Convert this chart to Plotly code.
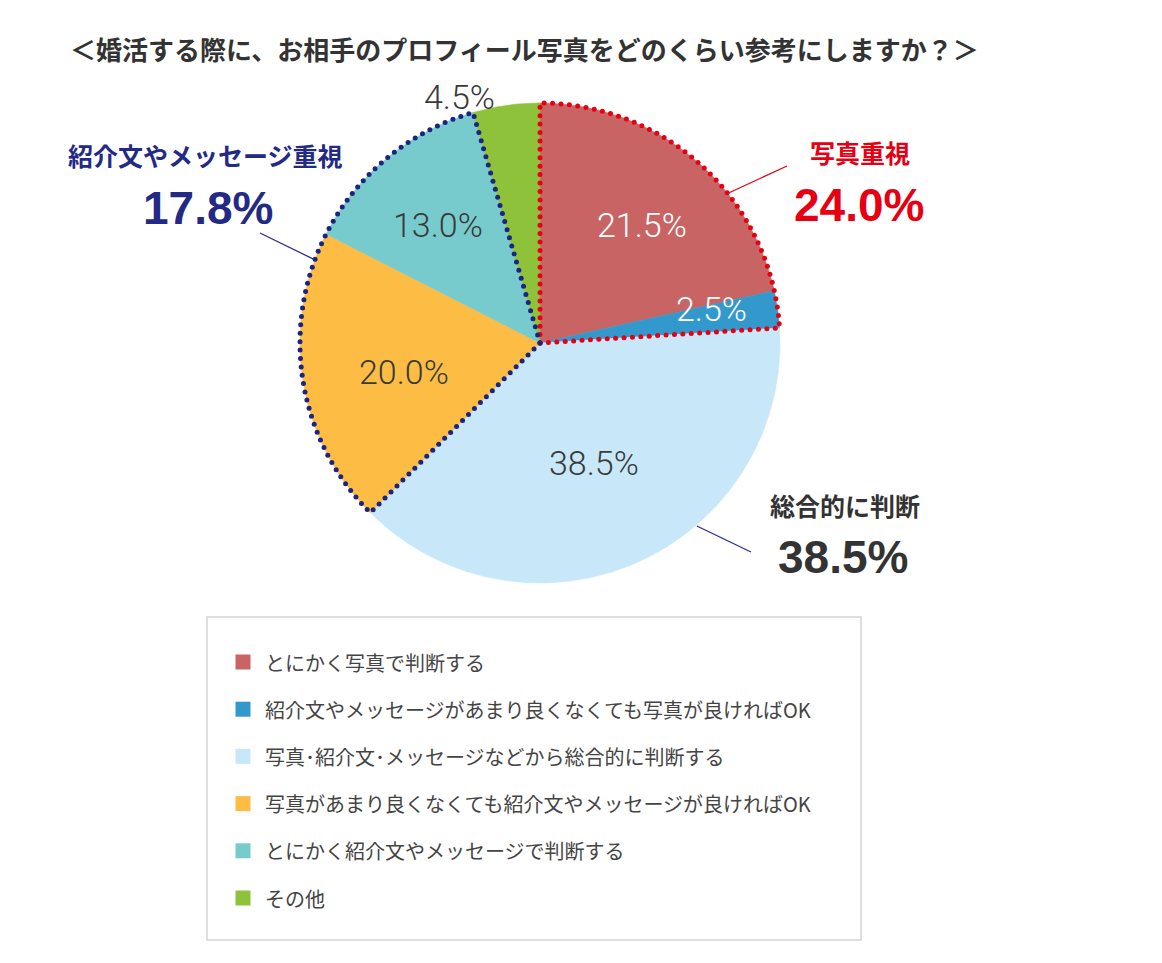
import numpy as np
import plotly.graph_objects as go

# ---------------- data ----------------
title_text = "＜婚活する際に、お相手のプロフィール写真をどのくらい参考にしますか？＞"
categories = [
    "とにかく写真で判断する",
    "紹介文やメッセージがあまり良くなくても写真が良ければOK",
    "写真･紹介文･メッセージなどから総合的に判断する",
    "写真があまり良くなくても紹介文やメッセージが良ければOK",
    "とにかく紹介文やメッセージで判断する",
    "その他",
]
values = [21.5, 2.5, 38.5, 20.0, 13.0, 4.5]
slice_colors = ["#c96464", "#3399cc", "#c8e8f9", "#fdbd44", "#78cbcd", "#8fc23b"]
label_colors = ["#ffffff", "#ffffff", "#3a3a3a", "#3a3a3a", "#3a3a3a", "#3a3a3a"]

callout_titles = ["写真重視", "紹介文やメッセージ重視", "総合的に判断"]
callout_values = [24.0, 17.8, 38.5]
callout_colors = ["#e60012", "#232a86", "#333333"]
callout_line_colors = ["#e60012", "#2b2f8f", "#2b2f8f"]
group_members = [[0, 1], [3, 4], None]   # slices outlined with dots
group_dot_colors = ["#e60012", "#1c2380"]

# ---------------- layout constants ----------------
W, H = 1162, 963
CX, CY, R = 540, 343, 240
label_radius = [0.65, 0.73, 0.55, 0.58, 0.65, 1.08]
label_angle_shift = [2, -3, 0, -3, -1, -10]
callout_pos = [(860, 152, 859, 205), (205, 155, 208, 208), (845, 505, 843, 557)]
leader_start_angle = [51.5, 290.3, 139.4]
leader_end = [(787, 166), (260, 233), (751, 552)]


def pt(angle_deg, r):
    a = np.radians(angle_deg)
    return CX + r * np.sin(a), CY - r * np.cos(a)


fig = go.Figure()

# ---------------- pie slices ----------------
total = sum(values)
cum = np.concatenate([[0], np.cumsum(values)]) / total * 360.0
for i, v in enumerate(values):
    a0, a1 = cum[i], cum[i + 1]
    angs = np.linspace(a0, a1, max(int((a1 - a0) * 2), 4))
    xs, ys = pt(angs, R)
    fig.add_trace(go.Scatter(
        x=np.concatenate([[CX], xs, [CX]]), y=np.concatenate([[CY], ys, [CY]]),
        mode="lines", fill="toself", fillcolor=slice_colors[i],
        line=dict(width=0.6, color=slice_colors[i]), hoverinfo="skip", showlegend=False))


def dotted(a0, a1, spacing=8.4):
    angs = np.linspace(a0, a1, 800)
    ax, ay = pt(angs, R)
    px = np.concatenate([np.linspace(CX, ax[0], 200), ax, np.linspace(ax[-1], CX, 200)])
    py = np.concatenate([np.linspace(CY, ay[0], 200), ay, np.linspace(ay[-1], CY, 200)])
    d = np.concatenate([[0], np.cumsum(np.hypot(np.diff(px), np.diff(py)))])
    n = int(d[-1] / spacing)
    s = np.linspace(0, d[-1], n + 1)
    return np.interp(s, d, px), np.interp(s, d, py)


for g, members in enumerate(group_members[:2]):
    a0, a1 = cum[members[0]], cum[members[-1] + 1]
    dx, dy = dotted(a0, a1)
    fig.add_trace(go.Scatter(x=dx, y=dy, mode="markers",
                             marker=dict(size=5, color=group_dot_colors[g], line=dict(width=0)),
                             hoverinfo="skip", showlegend=False))

annotations = []
# slice value labels
for i, v in enumerate(values):
    mid = (cum[i] + cum[i + 1]) / 2 + label_angle_shift[i]
    x, y = pt(mid, R * label_radius[i])
    annotations.append(dict(x=x, y=y, xref="x", yref="y", text=f"{v:.1f}%", showarrow=False,
                            font=dict(size=34, color=label_colors[i], family="Roboto", weight=300),
                            xanchor="center", yanchor="middle"))

# callouts
for k in range(3):
    tx, ty, vx, vy = callout_pos[k]
    annotations.append(dict(x=tx, y=ty, xref="x", yref="y", text=f"<b>{callout_titles[k]}</b>",
                            showarrow=False, font=dict(size=25, color=callout_colors[k],
                                                       family="Noto Sans CJK JP"),
                            xanchor="center", yanchor="middle"))
    annotations.append(dict(x=vx, y=vy, xref="x", yref="y", text=f"<b>{callout_values[k]:.1f}%</b>",
                            showarrow=False, font=dict(size=46, color=callout_colors[k],
                                                       family="Liberation Sans"),
                            xanchor="center", yanchor="middle"))
    sx, sy = pt(leader_start_angle[k], R + 1)
    ex, ey = leader_end[k]
    fig.add_trace(go.Scatter(x=[sx, ex], y=[sy, ey], mode="lines",
                             line=dict(color=callout_line_colors[k], width=1.3),
                             hoverinfo="skip", showlegend=False))

# title
annotations.append(dict(x=68, y=48, xref="x", yref="y", text=f"<b>{title_text}</b>", showarrow=False,
                        font=dict(size=26, color="#333333", family="Noto Sans CJK JP"),
                        xanchor="left", yanchor="middle"))

# legend (manual, inside a box)
LX, LY0, LDY = 243, 662, 47.2
ly = [LY0 + i * LDY for i in range(len(categories))]
fig.add_trace(go.Scatter(x=[LX] * len(categories), y=ly, mode="markers",
                         marker=dict(symbol="square", size=15, color=slice_colors, line=dict(width=0)),
                         hoverinfo="skip", showlegend=False))
for i, c in enumerate(categories):
    annotations.append(dict(x=263, y=ly[i], xref="x", yref="y", text=c, showarrow=False,
                            font=dict(size=20, color="#444444", family="Noto Sans CJK JP"),
                            xanchor="left", yanchor="middle"))

shapes = [dict(type="rect", xref="x", yref="y", x0=207, y0=617, x1=861, y1=940,
               line=dict(color="#d4d4d4", width=1.5), fillcolor="rgba(0,0,0,0)", layer="below")]

fig.update_layout(
    width=W, height=H, margin=dict(l=0, r=0, t=0, b=0),
    paper_bgcolor="white", plot_bgcolor="white",
    xaxis=dict(range=[0, W], visible=False, fixedrange=True),
    yaxis=dict(range=[H, 0], visible=False, fixedrange=True),
    annotations=annotations, shapes=shapes, showlegend=False,
)

fig.write_html("out.html")
